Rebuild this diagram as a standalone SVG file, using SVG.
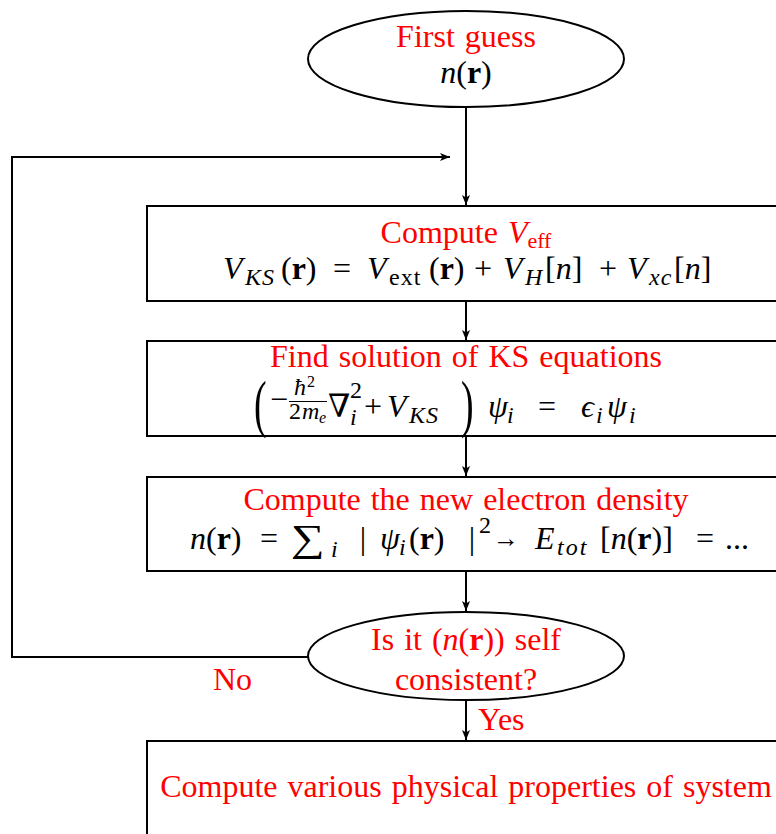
<svg xmlns="http://www.w3.org/2000/svg" width="776" height="834" viewBox="0 0 776 834">
<style>
.sh{fill:#fff;stroke:#000;stroke-width:2}
.ln{fill:none;stroke:#000;stroke-width:2}
.rd{font-family:"Liberation Serif","Times New Roman",serif;font-size:32px;fill:#ff0000;word-spacing:2px}
.mt{font-family:"Liberation Serif","Times New Roman","DejaVu Serif",serif;font-size:32px;fill:#000}
.s{font-size:24px;letter-spacing:1px}
.ss{font-size:16px}
.bg{font-size:63px}
.sum{font-size:38px}
.arr{font-size:26px}
.i{font-style:italic}
.b{font-weight:bold}
.m{text-anchor:middle}
</style>
<defs>
<marker id="ar" viewBox="0 0 10 10" refX="10" refY="5" markerWidth="10" markerHeight="10" markerUnits="userSpaceOnUse" orient="auto">
<path d="M0,1 L10,5 L0,9 L2.5,5 Z" fill="#000"/>
</marker>
</defs>
<g id="connectors">
<line class="ln" x1="466" y1="107" x2="466" y2="205" marker-end="url(#ar)"/>
<polyline class="ln" points="308,657 12,657 12,157 450,157" marker-end="url(#ar)"/>
<line class="ln" x1="466" y1="301" x2="466" y2="340" marker-end="url(#ar)"/>
<line class="ln" x1="466" y1="436" x2="466" y2="476" marker-end="url(#ar)"/>
<line class="ln" x1="466" y1="571" x2="466" y2="611" marker-end="url(#ar)"/>
<line class="ln" x1="466" y1="700" x2="466" y2="740" marker-end="url(#ar)"/>
<text class="rd" x="213" y="690">No</text>
<text class="rd" x="478" y="730">Yes</text>
</g>
<g id="start">
<ellipse class="sh" cx="466" cy="59" rx="158" ry="48"/>
<text class="rd m" x="466" y="47">First guess</text>
<text class="mt m" x="466" y="83"><tspan class="i">n</tspan>(<tspan class="b">r</tspan>)</text>
</g>
<g id="veff">
<rect class="sh" x="147" y="206" width="650" height="95"/>
<text class="rd m" x="466" y="243">Compute <tspan class="i">V</tspan><tspan font-size="22" dy="5">eff</tspan></text>
<text class="mt i" x="223" y="279">V</text><text class="mt s i" x="245" y="285">KS</text><text class="mt" x="281" y="279">(<tspan class="b">r</tspan>)</text>
<text class="mt m" x="342" y="279">=</text>
<text class="mt i" x="367" y="279">V</text><text class="mt s" x="389" y="285">ext</text><text class="mt" x="429" y="279">(<tspan class="b">r</tspan>)</text>
<text class="mt m" x="483" y="279">+</text>
<text class="mt i" x="503" y="279">V</text><text class="mt s i" x="525" y="285">H</text><text class="mt" x="545" y="279">[<tspan class="i">n</tspan>]</text>
<text class="mt m" x="608" y="279">+</text>
<text class="mt i" x="627" y="279">V</text><text class="mt s i" x="649" y="285">xc</text><text class="mt" x="674" y="279">[<tspan class="i">n</tspan>]</text>
</g>
<g id="ks">
<rect class="sh" x="147" y="341" width="650" height="95"/>
<text class="rd m" x="466" y="367">Find solution of KS equations</text>
<text class="mt bg" transform="translate(254 425) scale(0.6 1)">(</text>
<text class="mt" x="270" y="410">−</text>
<text class="mt s i" x="294" y="395">ħ</text><text class="mt ss" x="307" y="387">2</text>
<line x1="289" y1="401.5" x2="327" y2="401.5" stroke="#000" stroke-width="1.2"/>
<text class="mt s" x="289" y="419">2<tspan class="i">m</tspan></text><text class="mt ss i" x="319" y="423">e</text>
<text class="mt" x="328" y="417">∇</text><text class="mt s" x="350" y="398">2</text><text class="mt s i" x="350" y="425">i</text>
<text class="mt m" x="373" y="417">+</text>
<text class="mt i" x="387" y="417">V</text><text class="mt s i" x="409" y="423">KS</text>
<text class="mt bg" transform="translate(461 425) scale(0.6 1)">)</text>
<text class="mt i" x="488" y="417">ψ</text><text class="mt s i" x="507" y="423">i</text>
<text class="mt m" x="547" y="417">=</text>
<text class="mt i" x="581" y="417">ϵ</text><text class="mt s i" x="596" y="423">i</text><text class="mt i" x="607" y="417">ψ</text><text class="mt s i" x="629" y="423">i</text>
</g>
<g id="density">
<rect class="sh" x="147" y="477" width="650" height="94"/>
<text class="rd m" x="466" y="510">Compute the new electron density</text>
<text class="mt" x="190" y="549"><tspan class="i">n</tspan>(<tspan class="b">r</tspan>)</text>
<text class="mt m" x="269" y="549">=</text>
<text class="mt sum" transform="translate(291 551) scale(1.25 1)">∑</text><text class="mt s i" x="331" y="557">i</text>
<text class="mt m" x="363" y="549">|</text>
<text class="mt i" x="380" y="549">ψ</text><text class="mt s i" x="399" y="555">i</text><text class="mt" x="409" y="549">(<tspan class="b">r</tspan>)</text>
<text class="mt m" x="472" y="549">|</text><text class="mt s" x="479" y="533">2</text>
<text class="mt arr" x="493" y="547">→</text>
<text class="mt i" x="535" y="549">E</text><text class="mt s i" x="557" y="555" style="letter-spacing:2px">tot</text><text class="mt" x="600" y="549">[<tspan class="i">n</tspan>(<tspan class="b">r</tspan>)]</text>
<text class="mt m" x="705" y="549">=</text>
<text class="mt" x="725" y="549">...</text>
</g>
<g id="check">
<ellipse class="sh" cx="466" cy="656" rx="158" ry="44"/>
<text class="rd m" x="466" y="650">Is it (<tspan class="i">n</tspan>(<tspan class="b">r</tspan>)) self</text>
<text class="rd m" x="466" y="690">consistent?</text>
</g>
<g id="props">
<rect class="sh" x="147" y="741" width="650" height="120"/>
<text class="rd m" x="466" y="797">Compute various physical properties of system</text>
</g>
</svg>
